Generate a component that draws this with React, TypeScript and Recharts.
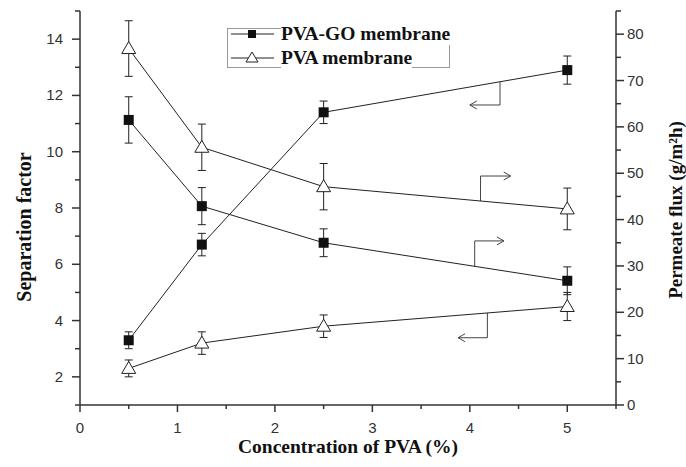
import React from 'react';
import {
  ComposedChart,
  Line,
  XAxis,
  YAxis,
  ErrorBar,
  ReferenceLine,
  Legend,
} from 'recharts';

// PVA concentration (%)
const concentration = [0.5, 1.25, 2.5, 5];

// separation factor (left axis)
const goSeparation = [3.3, 6.7, 11.4, 12.9];
const goSeparationErr = [0.3, 0.4, 0.4, 0.5];
const pvaSeparation = [2.3, 3.2, 3.8, 4.5];
const pvaSeparationErr = [0.3, 0.4, 0.4, 0.5];

// permeate flux (right axis)
const goFlux = [61.5, 42.9, 35.0, 26.8];
const goFluxErr = [5, 4, 3, 3];
const pvaFlux = [76.9, 55.6, 47.1, 42.3];
const pvaFluxErr = [6, 5, 5, 4.5];

const xTicks = [0, 0.5, 1, 1.5, 2, 2.5, 3, 3.5, 4, 4.5, 5, 5.5];
const leftTicks = [1, 2, 3, 4, 5, 6, 7, 8, 9, 10, 11, 12, 13, 14, 15];
const rightTicks = [0, 5, 10, 15, 20, 25, 30, 35, 40, 45, 50, 55, 60, 65, 70, 75, 80, 85];
const topTicks = [1, 2, 3, 4, 5];

const legendItems = [
  { name: 'PVA-GO membrane', marker: 'square' },
  { name: 'PVA membrane', marker: 'triangle' },
];

// annotation arrows: [x, y] corner path, last segment gets the head
const arrows = [
  { axis: 'left', pts: [[4.31, 12.49], [4.31, 11.66], [4.0, 11.66]] },
  { axis: 'right', pts: [[4.11, 44.0], [4.11, 49.4], [4.42, 49.4]] },
  { axis: 'right', pts: [[4.05, 29.9], [4.05, 35.4], [4.35, 35.4]] },
  { axis: 'left', pts: [[4.18, 4.27], [4.18, 3.39], [3.88, 3.39]] },
];

const data = concentration.map((c, i) => ({
  c,
  goSep: goSeparation[i],
  goSepErr: goSeparationErr[i],
  pvaSep: pvaSeparation[i],
  pvaSepErr: pvaSeparationErr[i],
  goFlux: goFlux[i],
  goFluxErr: goFluxErr[i],
  pvaFlux: pvaFlux[i],
  pvaFluxErr: pvaFluxErr[i],
}));

const INK = '#222';
const AXIS = '#333';
const tickFont = '"Liberation Sans", Arial, sans-serif';
const titleFont = '"Liberation Serif", "Times New Roman", serif';

const SquareDot = (props: any) => {
  const { cx, cy } = props;
  if (cx == null || cy == null) return null;
  return <rect x={cx - 5} y={cy - 5} width={10} height={10} fill="#111" />;
};

const TriangleDot = (props: any) => {
  const { cx, cy } = props;
  if (cx == null || cy == null) return null;
  return (
    <polygon
      points={`${cx},${cy - 7} ${cx - 7},${cy + 5} ${cx + 7},${cy + 5}`}
      fill="#fff"
      stroke={INK}
      strokeWidth={1}
    />
  );
};

const BottomTick = (props: any) => {
  const { x, y, payload } = props;
  const major = Number.isInteger(payload.value);
  return (
    <g>
      <line x1={x} x2={x} y1={y} y2={y + (major ? 7 : 4)} stroke={AXIS} strokeWidth={1.5} />
      {major && payload.value <= 5 && (
        <text x={x} y={y + 28} textAnchor="middle" fontFamily={tickFont} fontSize={15} fill={AXIS}>
          {payload.value}
        </text>
      )}
    </g>
  );
};

const TopTick = (props: any) => {
  const { x, y } = props;
  return <line x1={x} x2={x} y1={y} y2={y + 5} stroke={AXIS} strokeWidth={1.5} />;
};

const LeftTick = (props: any) => {
  const { x, y, payload } = props;
  const major = payload.value % 2 === 0;
  return (
    <g>
      <line x1={x} x2={x - (major ? 8 : 5)} y1={y} y2={y} stroke={AXIS} strokeWidth={1.5} />
      {major && (
        <text x={x - 17} y={y + 5} textAnchor="end" fontFamily={tickFont} fontSize={15} fill={AXIS}>
          {payload.value}
        </text>
      )}
    </g>
  );
};

const RightTick = (props: any) => {
  const { x, y, payload } = props;
  const major = payload.value % 10 === 0;
  return (
    <g>
      <line x1={x} x2={x + (major ? 8 : 5)} y1={y} y2={y} stroke={AXIS} strokeWidth={1.5} />
      {major && (
        <text x={x + 11} y={y + 5} textAnchor="start" fontFamily={tickFont} fontSize={15} fill={AXIS}>
          {payload.value}
        </text>
      )}
    </g>
  );
};

const ArrowHead = (props: any) => {
  const { x1, y1, x2, y2 } = props;
  if (x1 == null) return null;
  const dir = x2 < x1 ? 1 : -1;
  return (
    <g>
      <line x1={x1} y1={y1} x2={x2} y2={y2} stroke="#444" strokeWidth={1} />
      <polyline
        points={`${x2 + dir * 7},${y2 - 4} ${x2},${y2} ${x2 + dir * 7},${y2 + 4}`}
        fill="none"
        stroke="#444"
        strokeWidth={1}
      />
    </g>
  );
};

const renderLegend = () => (
  <div
    style={{
      position: 'relative',
      border: '1px solid #999',
      boxSizing: 'border-box',
      width: 223,
      height: 40,
    }}
  >
    {legendItems.map((item, i) => (
      <div
        key={item.name}
        style={{
          position: 'absolute',
          left: 2,
          top: -6 + i * 24,
          display: 'flex',
          alignItems: 'center',
          height: 22,
          whiteSpace: 'nowrap',
        }}
      >
        <svg width={46} height={22}>
          <line x1={1} x2={44} y1={11} y2={11} stroke={INK} strokeWidth={1} />
          {item.marker === 'square' ? (
            <rect x={18} y={7} width={8} height={8} fill="#111" />
          ) : (
            <polygon points="22,5 16,15 28,15" fill="#fff" stroke={INK} strokeWidth={1} />
          )}
        </svg>
        <span
          style={{
            fontFamily: titleFont,
            fontWeight: 'bold',
            fontSize: 19.5,
            color: '#111',
            marginLeft: 5,
            lineHeight: '22px',
            background: '#fff',
          }}
        >
          {item.name}
        </span>
      </div>
    ))}
  </div>
);

export default function App() {
  return (
    <div style={{ position: 'absolute', left: 0, top: 0, background: '#fff' }}>
      <ComposedChart
        width={686}
        height={467}
        data={data}
        margin={{ top: 11, right: 0, left: 0, bottom: 0 }}
      >
        <XAxis
          xAxisId="bottom"
          dataKey="c"
          type="number"
          domain={[0, 5.5]}
          ticks={xTicks}
          height={62}
          tickSize={0}
          tickMargin={0}
          tickLine={false}
          stroke={AXIS}
          strokeWidth={1.5}
          tick={(p: any) => <BottomTick {...p} />}
          interval={0}
          label={{
            value: 'Concentration of PVA (%)',
            position: 'insideBottom',
            offset: 14,
            style: { fontFamily: titleFont, fontWeight: 'bold', fontSize: 19.5, fill: '#111' },
          }}
        />
        <XAxis
          xAxisId="top"
          orientation="top"
          type="number"
          domain={[0, 5.5]}
          ticks={topTicks}
          height={0}
          tickSize={0}
          tickMargin={0}
          tickLine={false}
          stroke={AXIS}
          strokeWidth={1.5}
          tick={(p: any) => <TopTick {...p} />}
          interval={0}
        />
        <YAxis
          yAxisId="left"
          type="number"
          domain={[1, 15]}
          ticks={leftTicks}
          width={80}
          tickSize={0}
          tickMargin={0}
          tickLine={false}
          stroke={AXIS}
          strokeWidth={1.5}
          tick={(p: any) => <LeftTick {...p} />}
          interval={0}
          label={{
            value: 'Separation factor',
            angle: -90,
            position: 'center',
            dx: -16,
            dy: 19,
            style: { fontFamily: titleFont, fontWeight: 'bold', fontSize: 20, fill: '#111', textAnchor: 'middle' },
          }}
        />
        <YAxis
          yAxisId="right"
          orientation="right"
          type="number"
          domain={[0, 85]}
          ticks={rightTicks}
          width={70}
          tickSize={0}
          tickMargin={0}
          tickLine={false}
          stroke={AXIS}
          strokeWidth={1.5}
          tick={(p: any) => <RightTick {...p} />}
          interval={0}
          label={{
            value: 'Permeate flux (g/m²h)',
            angle: -90,
            position: 'center',
            dx: 24,
            dy: 2,
            style: { fontFamily: titleFont, fontWeight: 'bold', fontSize: 19, fill: '#111', textAnchor: 'middle' },
          }}
        />
        <Legend
          layout="vertical"
          align="center"
          verticalAlign="middle"
          content={renderLegend}
          wrapperStyle={{ position: 'absolute', left: 227, top: 28, width: 223, height: 40 }}
        />

        {arrows.map((a, i) => (
          <ReferenceLine
            key={`v${i}`}
            xAxisId="bottom"
            yAxisId={a.axis}
            segment={[
              { x: a.pts[0][0], y: a.pts[0][1] },
              { x: a.pts[1][0], y: a.pts[1][1] },
            ]}
            stroke="#444"
            strokeWidth={1}
          />
        ))}
        {arrows.map((a, i) => (
          <ReferenceLine
            key={`h${i}`}
            xAxisId="bottom"
            yAxisId={a.axis}
            segment={[
              { x: a.pts[1][0], y: a.pts[1][1] },
              { x: a.pts[2][0], y: a.pts[2][1] },
            ]}
            shape={(p: any) => <ArrowHead {...p} />}
          />
        ))}

        <Line
          xAxisId="bottom"
          yAxisId="left"
          dataKey="goSep"
          stroke={INK}
          strokeWidth={1}
          dot={<SquareDot />}
          isAnimationActive={false}
        >
          <ErrorBar dataKey="goSepErr" width={4} stroke={INK} strokeWidth={1} direction="y" />
        </Line>
        <Line
          xAxisId="bottom"
          yAxisId="left"
          dataKey="pvaSep"
          stroke={INK}
          strokeWidth={1}
          dot={<TriangleDot />}
          isAnimationActive={false}
        >
          <ErrorBar dataKey="pvaSepErr" width={4} stroke={INK} strokeWidth={1} direction="y" />
        </Line>
        <Line
          xAxisId="bottom"
          yAxisId="right"
          dataKey="goFlux"
          stroke={INK}
          strokeWidth={1}
          dot={<SquareDot />}
          isAnimationActive={false}
        >
          <ErrorBar dataKey="goFluxErr" width={4} stroke={INK} strokeWidth={1} direction="y" />
        </Line>
        <Line
          xAxisId="bottom"
          yAxisId="right"
          dataKey="pvaFlux"
          stroke={INK}
          strokeWidth={1}
          dot={<TriangleDot />}
          isAnimationActive={false}
        >
          <ErrorBar dataKey="pvaFluxErr" width={4} stroke={INK} strokeWidth={1} direction="y" />
        </Line>
      </ComposedChart>
    </div>
  );
}
